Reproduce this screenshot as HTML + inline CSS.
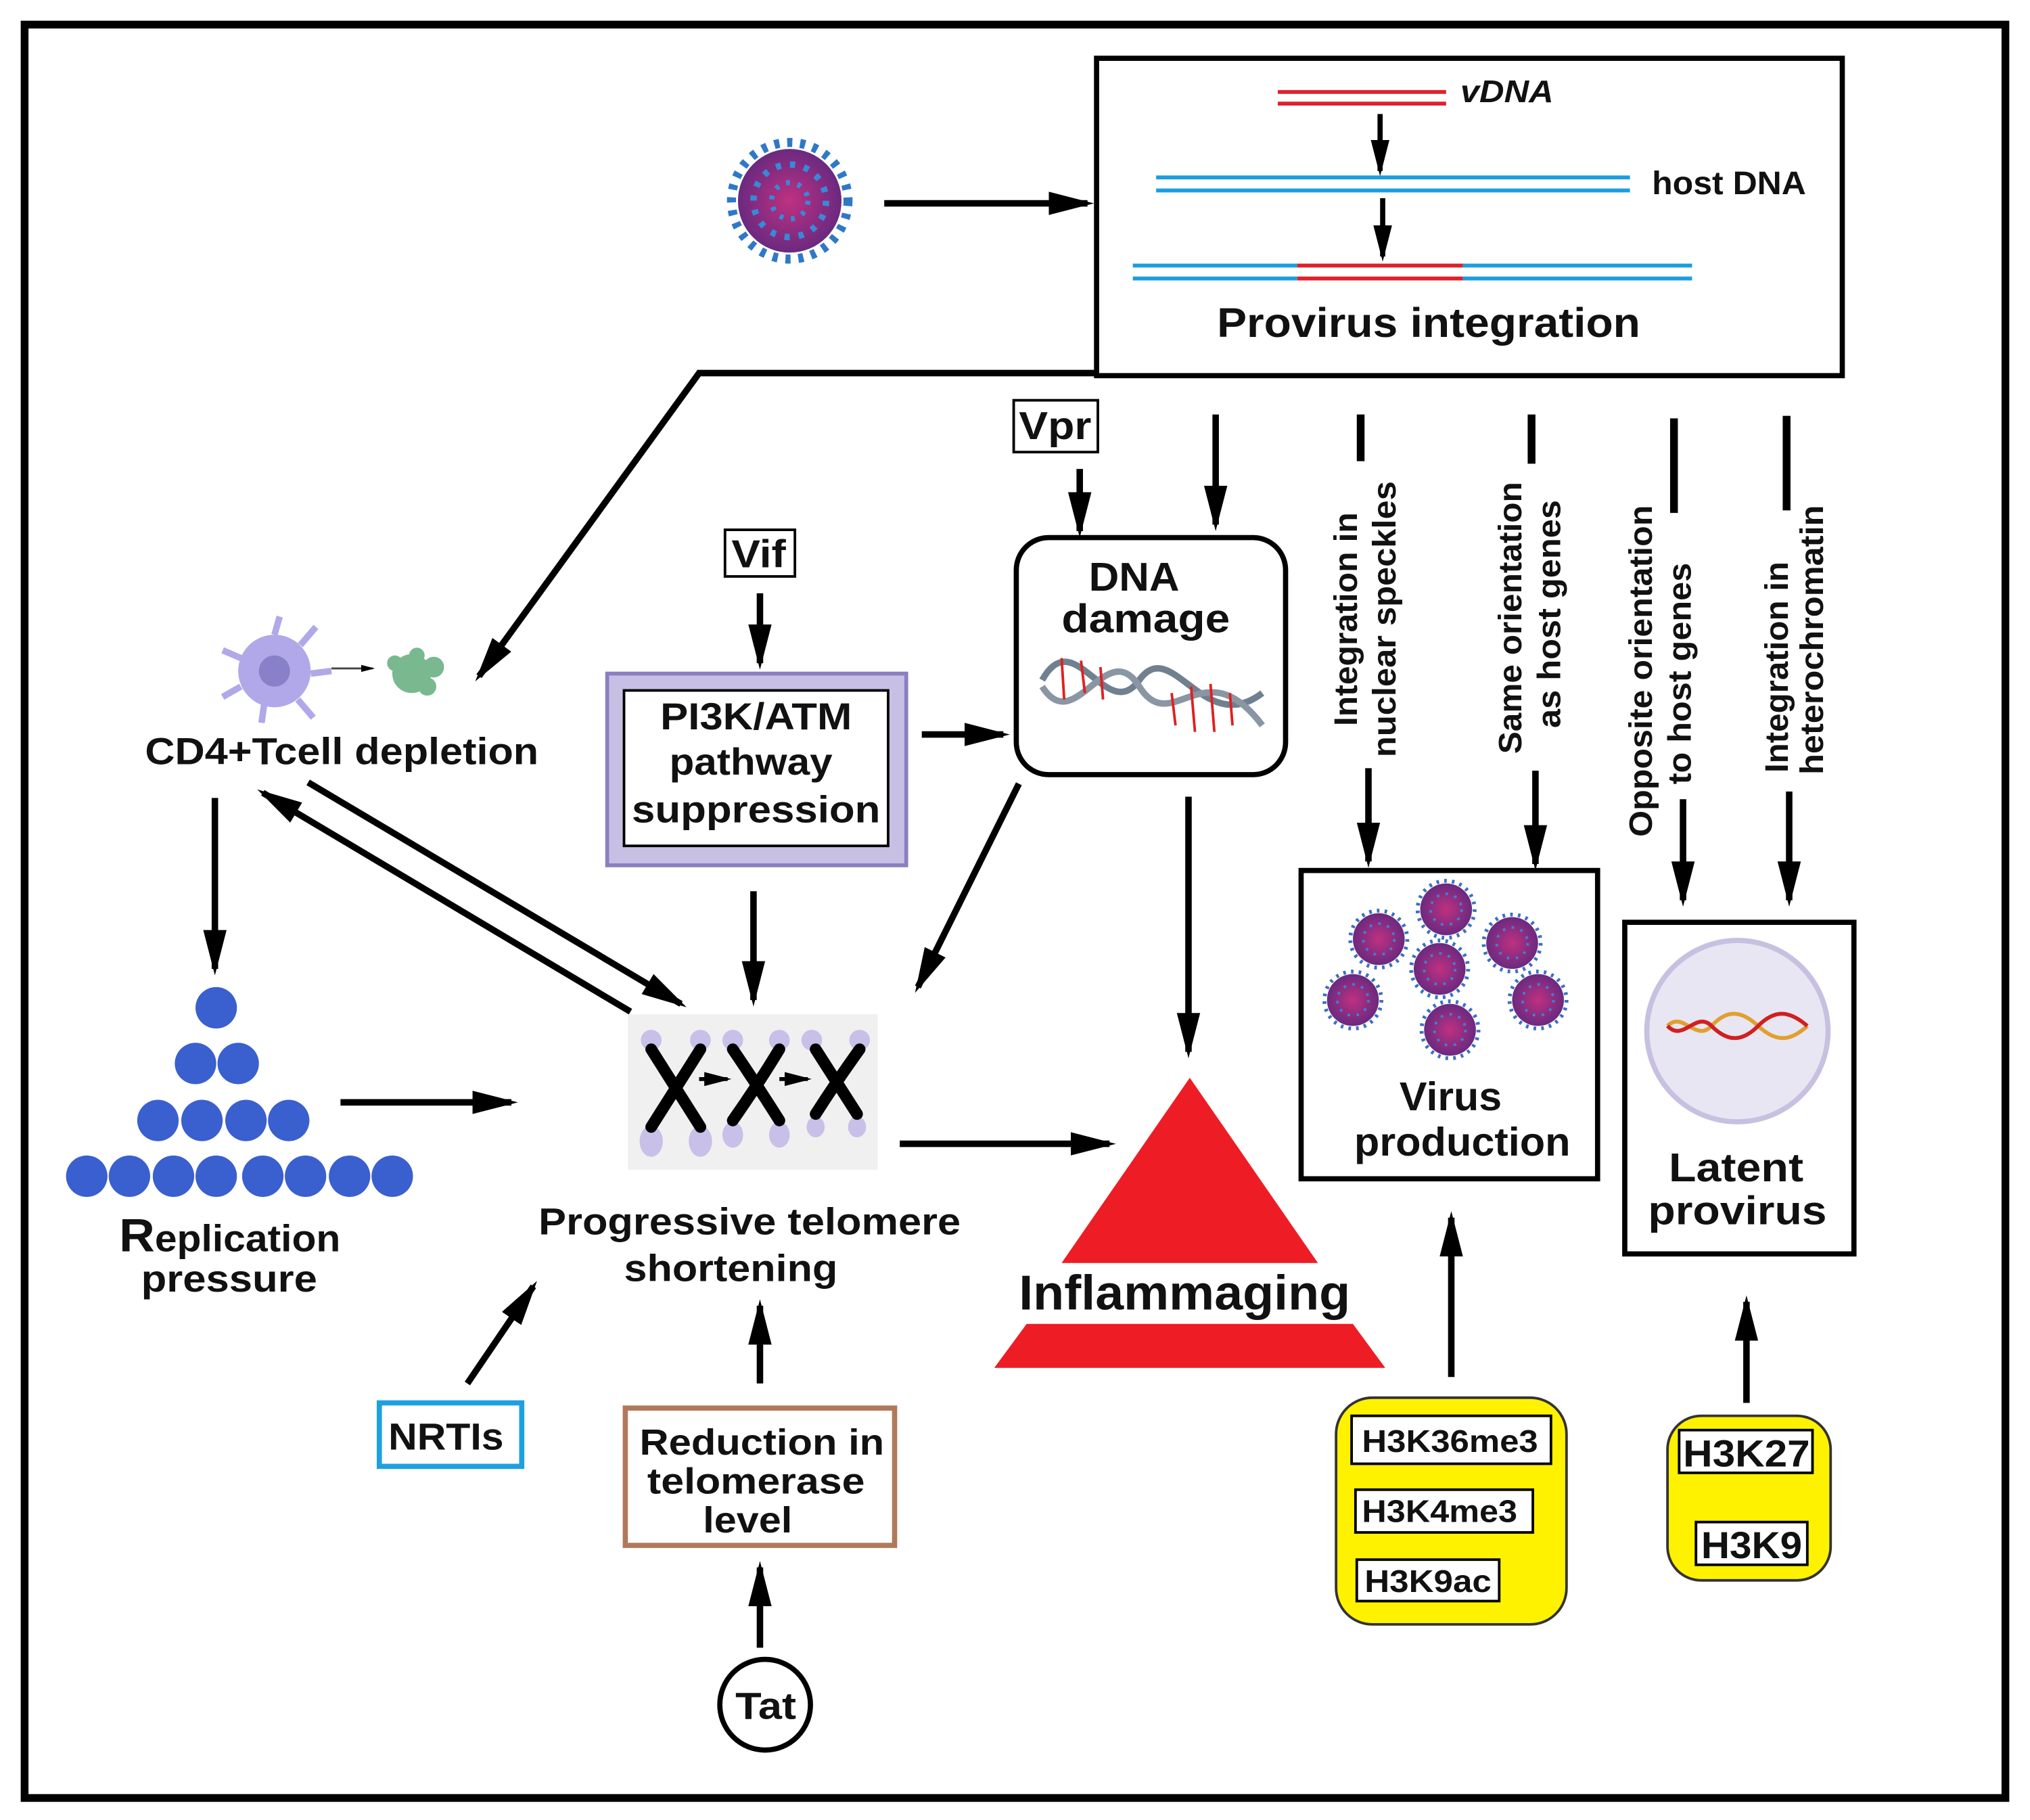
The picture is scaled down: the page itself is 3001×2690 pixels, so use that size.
<!DOCTYPE html>
<html><head><meta charset="utf-8"><style>
html,body{margin:0;padding:0;background:#fff;}
svg{display:block;}
text{font-family:"Liberation Sans",sans-serif;font-weight:bold;fill:#111;}
</style></head><body>
<svg width="3001" height="2690" viewBox="0 0 1568 1405" preserveAspectRatio="none" xmlns="http://www.w3.org/2000/svg">
<defs>
<marker id="a" markerWidth="7" markerHeight="6" refX="6" refY="3" orient="auto" markerUnits="strokeWidth">
<path d="M0,1.2 L7,3 L0,4.8 Z" fill="#000"/></marker>
<radialGradient id="vg" cx="50%" cy="50%" r="50%"><stop offset="0" stop-color="#c03080"/><stop offset="1" stop-color="#6a2a80"/></radialGradient>
<g id="vir"><circle r="20" fill="url(#vg)"/><circle r="22" fill="none" stroke="#3a70c0" stroke-width="3" stroke-dasharray="2 4"/><circle r="12" fill="none" stroke="#4080d0" stroke-width="2" stroke-dasharray="2 5"/></g>
</defs>
<rect x="19" y="19" width="1530" height="1369" fill="#fff" stroke="#000" stroke-width="6"/>

<g transform="translate(610,155)"><circle r="40" fill="url(#vg)"/><circle r="45" fill="none" stroke="#2f78c8" stroke-width="7" stroke-dasharray="4 6"/><circle r="28" fill="none" stroke="#3a88d8" stroke-width="5" stroke-dasharray="4 7"/><circle r="14" fill="none" stroke="#3a88d8" stroke-width="4" stroke-dasharray="3 6"/></g>
<g stroke="#000" stroke-width="5" fill="none" marker-end="url(#a)">
<line x1="683" y1="157" x2="840" y2="157"/>
</g>

<rect x="847" y="45" width="576" height="245" fill="#fff" stroke="#000" stroke-width="4"/>
<g stroke-width="3">
<line x1="987" y1="71" x2="1117" y2="71" stroke="#e0202a"/><line x1="987" y1="80" x2="1117" y2="80" stroke="#e0202a"/>
<line x1="893" y1="137" x2="1259" y2="137" stroke="#1a9ee0"/><line x1="893" y1="147" x2="1259" y2="147" stroke="#1a9ee0"/>
<line x1="875" y1="205" x2="1002" y2="205" stroke="#1a9ee0"/><line x1="875" y1="215" x2="1002" y2="215" stroke="#1a9ee0"/>
<line x1="1002" y1="205" x2="1130" y2="205" stroke="#e0202a"/><line x1="1002" y1="215" x2="1130" y2="215" stroke="#e0202a"/>
<line x1="1130" y1="205" x2="1307" y2="205" stroke="#1a9ee0"/><line x1="1130" y1="215" x2="1307" y2="215" stroke="#1a9ee0"/>
</g>
<text x="1128" y="79" font-size="24" font-style="italic" textLength="72" lengthAdjust="spacingAndGlyphs">vDNA</text>
<text x="1276" y="150" font-size="25" textLength="119" lengthAdjust="spacingAndGlyphs">host DNA</text>
<text x="940" y="260" font-size="32" textLength="327" lengthAdjust="spacingAndGlyphs">Provirus integration</text>
<g stroke="#000" stroke-width="4" fill="none" marker-end="url(#a)">
<line x1="1066" y1="88" x2="1066" y2="132"/>
<line x1="1068" y1="153" x2="1068" y2="198"/>
</g>

<g stroke="#000" stroke-width="5" fill="none" marker-end="url(#a)">
<polyline points="847,288 540,288 370,522"/>
<line x1="834" y1="362" x2="834" y2="410"/>
<line x1="939" y1="320" x2="939" y2="405"/>
<line x1="1057" y1="593" x2="1057" y2="665"/>
<line x1="1186" y1="595" x2="1186" y2="667"/>
<line x1="1300" y1="617" x2="1300" y2="695"/>
<line x1="1382" y1="611" x2="1382" y2="695"/>
<line x1="587" y1="458" x2="587" y2="512"/>
<line x1="712" y1="567" x2="775" y2="567"/>
<line x1="787" y1="605" x2="709" y2="762"/>
<line x1="918" y1="615" x2="918" y2="812"/>
<line x1="166" y1="616" x2="166" y2="748"/>
<line x1="238" y1="604" x2="526" y2="775"/>
<line x1="487" y1="781" x2="203" y2="612"/>
<line x1="263" y1="851" x2="395" y2="851"/>
<line x1="582" y1="688" x2="582" y2="772"/>
<line x1="695" y1="883" x2="857" y2="883"/>
<line x1="361" y1="1068" x2="412" y2="993"/>
<line x1="587" y1="1068" x2="587" y2="1008"/>
<line x1="587" y1="1272" x2="587" y2="1210"/>
<line x1="1121" y1="1063" x2="1121" y2="940"/>
<line x1="1349" y1="1083" x2="1349" y2="1005"/>
</g>
<g stroke="#000" stroke-width="6">
<line x1="1051" y1="320" x2="1051" y2="356"/>
<line x1="1183" y1="320" x2="1183" y2="358"/>
<line x1="1293" y1="323" x2="1293" y2="396"/>
<line x1="1380" y1="321" x2="1380" y2="394"/>
</g>

<g font-size="25" text-anchor="middle" lengthAdjust="spacingAndGlyphs">
<text transform="translate(1048,478) rotate(-90)" textLength="165" lengthAdjust="spacingAndGlyphs">Integration in</text>
<text transform="translate(1078,478) rotate(-90)" textLength="213" lengthAdjust="spacingAndGlyphs">nuclear speckles</text>
<text transform="translate(1175,477) rotate(-90)" textLength="210" lengthAdjust="spacingAndGlyphs">Same orientation</text>
<text transform="translate(1205,474) rotate(-90)" textLength="176" lengthAdjust="spacingAndGlyphs">as host genes</text>
<text transform="translate(1276,518) rotate(-90)" textLength="256" lengthAdjust="spacingAndGlyphs">Opposite orientation</text>
<text transform="translate(1306,520) rotate(-90)" textLength="171" lengthAdjust="spacingAndGlyphs">to host genes</text>
<text transform="translate(1381,515) rotate(-90)" textLength="163" lengthAdjust="spacingAndGlyphs">Integration in</text>
<text transform="translate(1408,494) rotate(-90)" textLength="208" lengthAdjust="spacingAndGlyphs">heterochromatin</text>
</g>

<rect x="783" y="309" width="65" height="40" fill="#fff" stroke="#000" stroke-width="2"/>
<text x="787" y="339" font-size="30" textLength="56" lengthAdjust="spacingAndGlyphs">Vpr</text>
<rect x="560" y="409" width="54" height="36" fill="#fff" stroke="#000" stroke-width="2"/>
<text x="565" y="438" font-size="30" textLength="42" lengthAdjust="spacingAndGlyphs">Vif</text>

<rect x="785" y="415" width="208" height="183" rx="25" fill="#fff" stroke="#000" stroke-width="4"/>
<text x="841" y="456" font-size="31" textLength="70" lengthAdjust="spacingAndGlyphs">DNA</text>
<text x="820" y="488" font-size="31" textLength="130" lengthAdjust="spacingAndGlyphs">damage</text>
<g fill="none" stroke-width="5">
<path d="M805,525 C830,480 855,560 880,525 S930,570 975,535" stroke="#708090"/>
<path d="M805,530 C830,570 855,490 880,530 S930,500 975,560" stroke="#8a96a4"/>
</g>
<g stroke="#e02020" stroke-width="2">
<line x1="820" y1="508" x2="822" y2="540"/><line x1="835" y1="510" x2="838" y2="535"/><line x1="850" y1="515" x2="852" y2="540"/>
<line x1="905" y1="535" x2="908" y2="560"/><line x1="920" y1="530" x2="923" y2="565"/><line x1="935" y1="528" x2="938" y2="565"/><line x1="950" y1="535" x2="952" y2="560"/>
</g>

<rect x="469" y="520" width="231" height="148" fill="#c8c0e4" stroke="#8a80c0" stroke-width="3"/>
<rect x="482" y="533" width="204" height="120" fill="#fff" stroke="#000" stroke-width="2"/>
<text x="510" y="563" font-size="29" textLength="148" lengthAdjust="spacingAndGlyphs">PI3K/ATM</text>
<text x="517" y="598" font-size="29" textLength="126" lengthAdjust="spacingAndGlyphs">pathway</text>
<text x="488" y="635" font-size="29" textLength="192" lengthAdjust="spacingAndGlyphs">suppression</text>

<g transform="translate(212,518)">
<circle r="28" fill="#b0a8e8"/><circle r="12" fill="#8880c8"/>
<g stroke="#b0a8e8" stroke-width="5"><line x1="0" y1="-28" x2="4" y2="-42"/><line x1="20" y1="-20" x2="32" y2="-34"/><line x1="28" y1="2" x2="44" y2="0"/><line x1="18" y1="22" x2="30" y2="36"/><line x1="-8" y1="26" x2="-10" y2="40"/><line x1="-26" y1="12" x2="-40" y2="20"/><line x1="-26" y1="-10" x2="-40" y2="-16"/></g>
</g>
<line x1="256" y1="516" x2="288" y2="516" stroke="#444" stroke-width="1.5" marker-end="url(#a)"/>
<g fill="#7ab890"><circle cx="318" cy="520" r="15"/><circle cx="335" cy="515" r="8"/><circle cx="305" cy="512" r="6"/><circle cx="322" cy="506" r="6"/><circle cx="330" cy="530" r="7"/></g>
<text x="112" y="590" font-size="29" textLength="304" lengthAdjust="spacingAndGlyphs">CD4+Tcell depletion</text>

<g fill="#3a5fcf">
<circle cx="167" cy="778" r="16"/>
<circle cx="151" cy="821" r="16"/><circle cx="184" cy="821" r="16"/>
<circle cx="122" cy="865" r="16"/><circle cx="156" cy="865" r="16"/><circle cx="190" cy="865" r="16"/><circle cx="223" cy="865" r="16"/>
<circle cx="67" cy="908" r="16"/><circle cx="100" cy="908" r="16"/><circle cx="134" cy="908" r="16"/><circle cx="167" cy="908" r="16"/><circle cx="203" cy="908" r="16"/><circle cx="236" cy="908" r="16"/><circle cx="270" cy="908" r="16"/><circle cx="303" cy="908" r="16"/>
</g>
<text x="92" y="966" font-size="29" textLength="171" lengthAdjust="spacingAndGlyphs"><tspan font-size="36">R</tspan>eplication</text>
<text x="109" y="997" font-size="29" textLength="136" lengthAdjust="spacingAndGlyphs">pressure</text>

<rect x="485" y="783" width="193" height="120" fill="#f0f0f0"/>
<g fill="#c8c0e8"><circle cx="503" cy="803" r="8"/><circle cx="541" cy="803" r="8"/><circle cx="566" cy="803" r="8"/><circle cx="602" cy="803" r="8"/><circle cx="627" cy="803" r="8"/><circle cx="664" cy="803" r="8"/>
<ellipse cx="503" cy="881" rx="9" ry="12"/><ellipse cx="541" cy="881" rx="9" ry="12"/><ellipse cx="566" cy="876" rx="8" ry="10"/><ellipse cx="602" cy="876" rx="8" ry="10"/><ellipse cx="630" cy="870" rx="7" ry="8"/><ellipse cx="662" cy="870" rx="7" ry="8"/></g>
<g stroke="#000" stroke-width="9" stroke-linecap="round" fill="none">
<path d="M503,810 Q522,840 541,870"/><path d="M541,810 Q522,840 503,870"/>
<path d="M566,810 Q585,838 602,865"/><path d="M602,810 Q585,838 566,865"/>
<path d="M630,810 Q646,835 662,860"/><path d="M664,810 Q646,835 630,860"/>
</g>
<g stroke="#000" stroke-width="3" marker-end="url(#a)"><line x1="540" y1="833" x2="562" y2="833"/><line x1="602" y1="833" x2="624" y2="833"/></g>
<text x="416" y="953" font-size="29" textLength="326" lengthAdjust="spacingAndGlyphs">Progressive telomere</text>
<text x="482" y="989" font-size="29" textLength="165" lengthAdjust="spacingAndGlyphs">shortening</text>

<rect x="293" y="1083" width="110" height="49" fill="#fff" stroke="#1ea0e0" stroke-width="4"/>
<text x="300" y="1119" font-size="29" textLength="89" lengthAdjust="spacingAndGlyphs">NRTIs</text>

<rect x="483" y="1087" width="208" height="106" fill="#fff" stroke="#b07a5a" stroke-width="4"/>
<text x="494" y="1123" font-size="28" textLength="189" lengthAdjust="spacingAndGlyphs">Reduction in</text>
<text x="500" y="1153" font-size="28" textLength="168" lengthAdjust="spacingAndGlyphs">telomerase</text>
<text x="543" y="1183" font-size="28" textLength="69" lengthAdjust="spacingAndGlyphs">level</text>

<circle cx="591" cy="1316" r="35" fill="#fff" stroke="#000" stroke-width="4"/>
<text x="568" y="1327" font-size="29" textLength="47" lengthAdjust="spacingAndGlyphs">Tat</text>

<polygon points="919,832 1018,975 820,975" fill="#ee1c24"/>
<polygon points="793,1022 1045,1022 1070,1056 768,1056" fill="#ee1c24"/>
<text x="787" y="1011" font-size="38" textLength="256" lengthAdjust="spacingAndGlyphs">Inflammaging</text>

<rect x="1005" y="672" width="229" height="238" fill="#fff" stroke="#000" stroke-width="4"/>
<use href="#vir" x="1117" y="702"/><use href="#vir" x="1065" y="725"/><use href="#vir" x="1168" y="728"/>
<use href="#vir" x="1112" y="748"/><use href="#vir" x="1045" y="772"/><use href="#vir" x="1188" y="772"/><use href="#vir" x="1120" y="795"/>
<text x="1081" y="857" font-size="31" textLength="79" lengthAdjust="spacingAndGlyphs">Virus</text>
<text x="1046" y="892" font-size="31" textLength="167" lengthAdjust="spacingAndGlyphs">production</text>

<rect x="1255" y="712" width="177" height="256" fill="#fff" stroke="#000" stroke-width="4"/>
<circle cx="1342" cy="796" r="70" fill="#e8e6f2" stroke="#c8c0e0" stroke-width="4"/>
<g fill="none" stroke-width="3">
<path d="M1288,792 C1300,780 1310,805 1322,792 S1345,780 1358,792 S1382,805 1396,792" stroke="#e0a030"/>
<path d="M1288,792 C1300,805 1310,780 1322,792 S1345,805 1358,792 S1382,780 1396,792" stroke="#d02020"/>
</g>
<text x="1289" y="912" font-size="31" textLength="104" lengthAdjust="spacingAndGlyphs">Latent</text>
<text x="1273" y="945" font-size="31" textLength="138" lengthAdjust="spacingAndGlyphs">provirus</text>

<rect x="1032" y="1079" width="178" height="175" rx="28" fill="#fff200" stroke="#333" stroke-width="2"/>
<rect x="1044" y="1093" width="154" height="37" fill="#fff" stroke="#000" stroke-width="2"/>
<text x="1052" y="1121" font-size="24" textLength="136" lengthAdjust="spacingAndGlyphs">H3K36me3</text>
<rect x="1047" y="1150" width="137" height="33" fill="#fff" stroke="#000" stroke-width="2"/>
<text x="1052" y="1175" font-size="24" textLength="120" lengthAdjust="spacingAndGlyphs">H3K4me3</text>
<rect x="1048" y="1204" width="110" height="32" fill="#fff" stroke="#000" stroke-width="2"/>
<text x="1054" y="1229" font-size="24" textLength="98" lengthAdjust="spacingAndGlyphs">H3K9ac</text>

<rect x="1288" y="1093" width="126" height="127" rx="26" fill="#fff200" stroke="#333" stroke-width="2"/>
<rect x="1297" y="1104" width="103" height="33" fill="#fff" stroke="#000" stroke-width="2"/>
<text x="1300" y="1132" font-size="29" textLength="98" lengthAdjust="spacingAndGlyphs">H3K27</text>
<rect x="1310" y="1175" width="86" height="33" fill="#fff" stroke="#000" stroke-width="2"/>
<text x="1314" y="1203" font-size="29" textLength="78" lengthAdjust="spacingAndGlyphs">H3K9</text>
</svg>
</body></html>
